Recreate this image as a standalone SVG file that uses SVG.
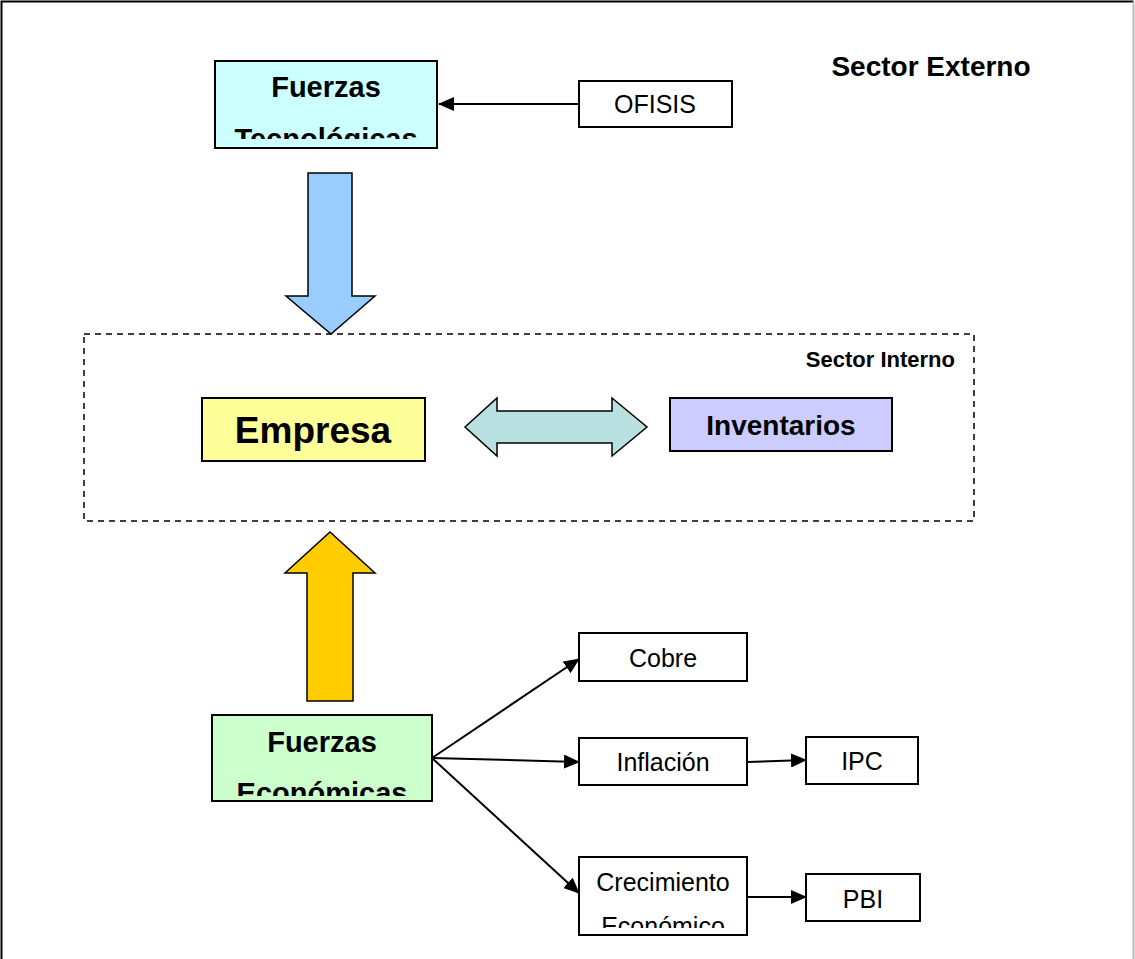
<svg xmlns="http://www.w3.org/2000/svg" width="1135" height="959" viewBox="0 0 1135 959">
<style>
.box{stroke:#000;stroke-width:2}
.t{font-family:"Liberation Sans",Arial,sans-serif;text-anchor:middle;fill:#000}
.b{font-weight:bold}
.r{font-size:25px}
.h{font-size:29px}
.conn{stroke:#000;stroke-width:2;fill:none}
.blk{stroke:#000;stroke-width:1.5}
</style>
<defs>
<marker id="ah" markerWidth="16" markerHeight="14" refX="15" refY="7" orient="auto" markerUnits="userSpaceOnUse">
<path d="M0,0 L16,7 L0,14 Z" fill="#000"/>
</marker>
<clipPath id="c1"><rect x="215" y="61" width="222" height="78"/></clipPath>
<clipPath id="c2"><rect x="212" y="715" width="220" height="81"/></clipPath>
<clipPath id="c3"><rect x="579" y="857" width="168" height="71"/></clipPath>
</defs>
<rect x="0" y="0" width="1135" height="959" fill="#fff"/>
<path d="M1.5,959 V1.5 H1133.5" fill="none" stroke="#000" stroke-width="2"/>
<line x1="1133.5" y1="1.5" x2="1133.5" y2="959" stroke="#bbb" stroke-width="2"/>
<text class="t b" x="931" y="76" font-size="28">Sector Externo</text>
<rect x="84" y="334" width="890" height="187" fill="none" stroke="#000" stroke-width="1.5" stroke-dasharray="6,5"/>
<text class="t b" x="955" y="367" font-size="22" text-anchor="end" style="text-anchor:end">Sector Interno</text>

<g id="connectors">
<line class="conn" x1="579" y1="104" x2="439" y2="104" marker-end="url(#ah)"/>
<line class="conn" x1="432" y1="758" x2="579" y2="659" marker-end="url(#ah)"/>
<line class="conn" x1="432" y1="758" x2="579" y2="762" marker-end="url(#ah)"/>
<line class="conn" x1="432" y1="758" x2="579" y2="893" marker-end="url(#ah)"/>
<line class="conn" x1="747" y1="762" x2="806" y2="760" marker-end="url(#ah)"/>
<line class="conn" x1="747" y1="897" x2="806" y2="897" marker-end="url(#ah)"/>
<path id="arrowTec" class="blk" fill="#99ccff" d="M308,173 H352 V296 H375 L331,334 L286,296 H308 Z"/>
<path id="arrowEco" class="blk" fill="#ffcc00" d="M307,701 V573 H285 L330,532 L375,573 H353 V701 Z"/>
<path id="arrowInv" class="blk" fill="#b9e1e1" d="M465,427 L497,398 V411 H612 V398 L647,427 L612,456 V443 H497 V456 Z"/>
</g>

<g id="tecnologicas">
<rect class="box" x="215" y="61" width="222" height="87" fill="#ccffff"/>
<g clip-path="url(#c1)">
<text class="t b h" x="326" y="97">Fuerzas</text>
<text class="t b h" x="326" y="149">Tecnológicas</text>
</g>
</g>
<g id="ofisis">
<rect class="box" x="579" y="81" width="153" height="46" fill="#fff"/>
<text class="t r" x="655" y="113">OFISIS</text>
</g>
<g id="empresa">
<rect class="box" x="202" y="398" width="223" height="63" fill="#ffff99"/>
<text class="t b" x="313" y="443" font-size="37">Empresa</text>
</g>
<g id="inventarios">
<rect class="box" x="670" y="398" width="222" height="53" fill="#ccccff"/>
<text class="t b" x="781" y="435" font-size="28">Inventarios</text>
</g>
<g id="economicas">
<rect class="box" x="212" y="715" width="220" height="86" fill="#ccffcc"/>
<g clip-path="url(#c2)">
<text class="t b h" x="322" y="752">Fuerzas</text>
<text class="t b h" x="322" y="803">Económicas</text>
</g>
</g>
<g id="cobre">
<rect class="box" x="579" y="633" width="168" height="48" fill="#fff"/>
<text class="t r" x="663" y="667">Cobre</text>
</g>
<g id="inflacion">
<rect class="box" x="579" y="738" width="168" height="47" fill="#fff"/>
<text class="t r" x="663" y="771">Inflación</text>
</g>
<g id="ipc">
<rect class="box" x="806" y="737" width="112" height="47" fill="#fff"/>
<text class="t r" x="862" y="770">IPC</text>
</g>
<g id="crecimiento">
<rect class="box" x="579" y="857" width="168" height="78" fill="#fff"/>
<g clip-path="url(#c3)">
<text class="t r" x="663" y="891">Crecimiento</text>
<text class="t r" x="663" y="935">Económico</text>
</g>
</g>
<g id="pbi">
<rect class="box" x="806" y="874" width="114" height="47" fill="#fff"/>
<text class="t r" x="863" y="908">PBI</text>
</g>
</svg>
